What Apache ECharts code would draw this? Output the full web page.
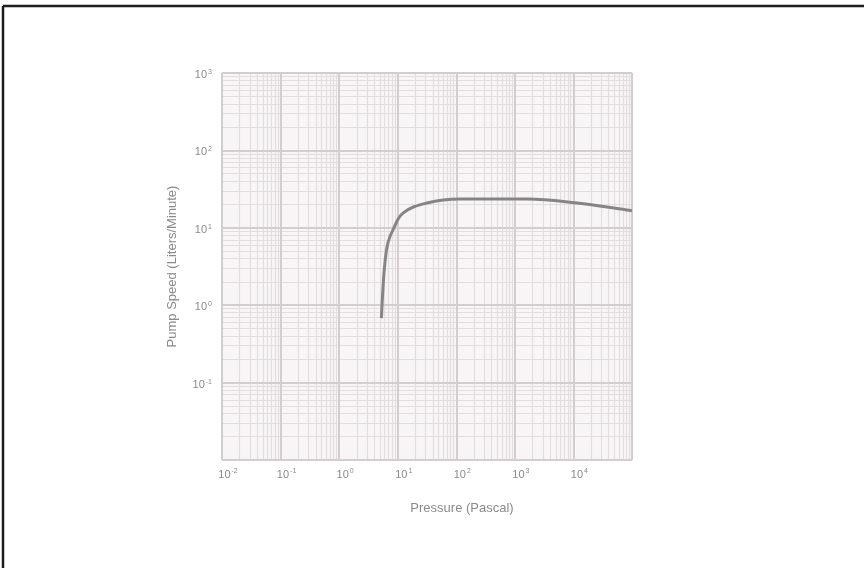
<!DOCTYPE html>
<html><head><meta charset="utf-8">
<script src="https://cdn.jsdelivr.net/npm/echarts@6/dist/echarts.min.js"></script>
<style>html,body{margin:0;padding:0;background:#fff}#c{width:864px;height:568px}</style>
</head><body><div id="c"></div>
<script>
// Data
const pressurePa = [5.27, 5.58, 6.04, 6.8, 8.3, 12.3, 31.5, 115, 1600, 11400, 81000, 100000];
const pumpSpeed  = [0.68, 1.57, 3.5, 6.4, 9.4, 15.5, 20.9, 23.5, 23.5, 20.9, 17, 16.6];
const xDecadeExps = [-2, -1, 0, 1, 2, 3, 4, 5];
const yDecadeExps = [-2, -1, 0, 1, 2, 3];
const xLabelExps = [-2, -1, 0, 1, 2, 3, 4];
const yLabelExps = [-1, 0, 1, 2, 3];
const minorMult = [2, 3, 4, 5, 6, 7, 8, 9];

const chart = echarts.init(document.getElementById('c'));
function lab(v){
  const e = Math.round(Math.log10(v));
  return '{b|10}{s|' + String(e) + '}';
}
const rich = {b:{fontSize:11,color:'#8a8a8a',fontFamily:'Liberation Sans'}, s:{fontSize:7,color:'#8a8a8a',verticalAlign:'top',padding:[0,0,6,1],fontFamily:'Liberation Sans'}};

const xMinor = [], yMinor = [];
xDecadeExps.slice(0,-1).forEach(e => minorMult.forEach(m => xMinor.push({xAxis: m*Math.pow(10,e)})));
yDecadeExps.slice(0,-1).forEach(e => minorMult.forEach(m => yMinor.push({yAxis: m*Math.pow(10,e)})));
const xMajor = xDecadeExps.map(e => ({xAxis: Math.pow(10,e)}));
const yMajor = yDecadeExps.map(e => ({yAxis: Math.pow(10,e)}));

chart.setOption({
  animation:false,
  backgroundColor:'#fff',
  grid:{left:222, right:232, top:73, bottom:108, show:true, backgroundColor:'#f8f5f6', borderWidth:0},
  graphic:[
    {type:'line', shape:{x1:3, y1:6, x2:864, y2:6}, style:{stroke:'#1e1e1e', lineWidth:2.5}},
    {type:'line', shape:{x1:3, y1:6, x2:3, y2:568}, style:{stroke:'#1e1e1e', lineWidth:2.5}}
  ],
  xAxis:{type:'log', logBase:10, min:0.01, max:100000,
    name:'Pressure (Pascal)', nameLocation:'middle', nameGap:42,
    nameTextStyle:{fontSize:13, color:'#8a8a8a', fontFamily:'Liberation Sans', padding:[0,0,0,70]},
    axisLine:{show:false}, axisTick:{show:false}, splitLine:{show:false},
    axisLabel:{formatter:v => xLabelExps.includes(Math.round(Math.log10(v))) ? lab(v) : '', rich:rich, margin:8, padding:[0,0,0,12]}
  },
  yAxis:{type:'log', logBase:10, min:0.01, max:1000,
    name:'Pump Speed (Liters/Minute)', nameLocation:'middle', nameGap:43,
    nameTextStyle:{fontSize:13, color:'#8a8a8a', fontFamily:'Liberation Sans'},
    axisLine:{show:false}, axisTick:{show:false}, splitLine:{show:false},
    axisLabel:{formatter:v => yLabelExps.includes(Math.round(Math.log10(v))) ? lab(v) : '', rich:rich, margin:10, padding:[4,0,0,0]}
  },
  series:[
    {type:'line', data:[], silent:true, z:1,
      markLine:{silent:true, symbol:'none', label:{show:false}, animation:false,
        lineStyle:{color:'#e2dddf', type:'solid', width:1.2}, data: xMinor.concat(yMinor)}},
    {type:'line', data:[], silent:true, z:2,
      markLine:{silent:true, symbol:'none', label:{show:false}, animation:false,
        lineStyle:{color:'#d2cdcf', type:'solid', width:2}, data: xMajor.concat(yMajor)}},
    {type:'line', data: pressurePa.map((p,i)=>[p, pumpSpeed[i]]), smooth:0.4, showSymbol:false, z:10,
      lineStyle:{color:'#858585', width:3}}
  ]
});
</script></body></html>
